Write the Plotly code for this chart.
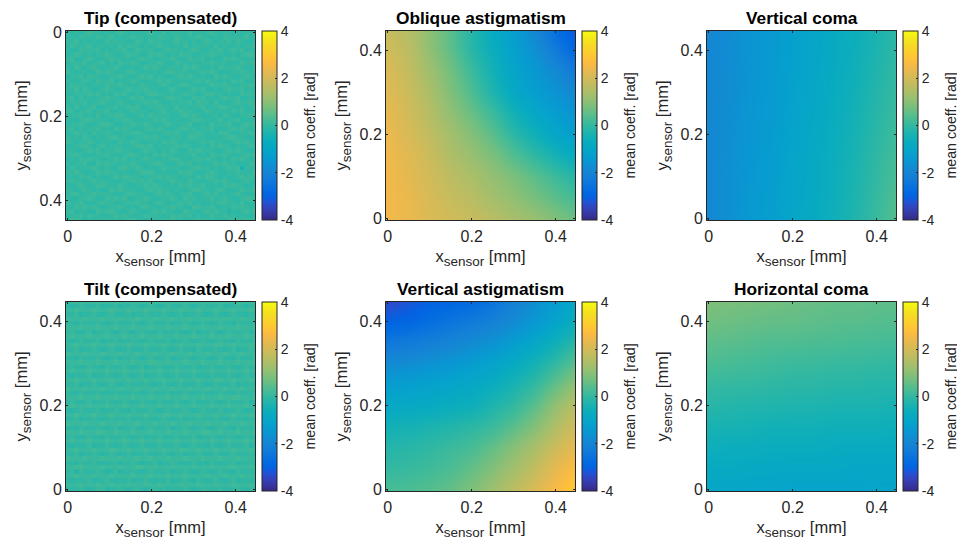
import plotly.graph_objects as go

W, H = 957, 542
FONT = "Liberation Sans"
INK = "#262626"

PARULA = [
 (.2081,.1663,.5292),(.2116,.1898,.5777),(.2123,.2138,.6270),(.2081,.2386,.6771),(.1959,.2645,.7279),(.1707,.2919,.7792),
 (.1253,.3242,.8303),(.0591,.3598,.8683),(.0117,.3875,.8820),(.0060,.4086,.8828),(.0165,.4266,.8786),(.0329,.4430,.8720),
 (.0498,.4586,.8641),(.0629,.4737,.8554),(.0723,.4887,.8467),(.0779,.5040,.8384),(.0793,.5200,.8312),(.0749,.5375,.8263),
 (.0641,.5570,.8240),(.0488,.5772,.8228),(.0343,.5966,.8199),(.0265,.6137,.8135),(.0239,.6287,.8038),(.0231,.6418,.7913),
 (.0228,.6535,.7768),(.0267,.6642,.7607),(.0384,.6743,.7436),(.0590,.6838,.7254),(.0843,.6928,.7062),(.1133,.7015,.6859),
 (.1453,.7098,.6646),(.1801,.7177,.6424),(.2178,.7250,.6193),(.2586,.7317,.5954),(.3022,.7376,.5712),(.3482,.7424,.5473),
 (.3953,.7459,.5244),(.4420,.7481,.5033),(.4871,.7491,.4840),(.5300,.7491,.4661),(.5709,.7485,.4494),(.6099,.7473,.4337),
 (.6473,.7456,.4188),(.6834,.7435,.4044),(.7184,.7411,.3905),(.7525,.7384,.3768),(.7858,.7356,.3633),(.8185,.7327,.3498),
 (.8507,.7299,.3360),(.8824,.7274,.3217),(.9139,.7258,.3063),(.9450,.7261,.2886),(.9739,.7314,.2666),(.9938,.7455,.2403),
 (.9990,.7653,.2164),(.9955,.7861,.1967),(.9880,.8066,.1794),(.9789,.8271,.1633),(.9697,.8481,.1475),(.9626,.8705,.1309),
 (.9589,.8949,.1132),(.9598,.9218,.0948),(.9661,.9514,.0755),(.9763,.9831,.0538)]
colorscale = [[i / 63, f"rgb({r*255:.0f},{g*255:.0f},{b*255:.0f})"] for i, (r, g, b) in enumerate(PARULA)]

grid_x = [0.0, 0.05, 0.10, 0.15, 0.20, 0.25, 0.30, 0.35, 0.40, 0.445]
grid_y = [0.0, 0.05, 0.10, 0.15, 0.20, 0.25, 0.30, 0.35, 0.40, 0.445]

oblique_astig = [
 [2.50,2.35,2.10,1.95,1.80,1.60,1.35,1.15,0.85,0.60],
 [2.50,2.35,2.05,1.80,1.60,1.30,1.05,0.75,0.45,0.20],
 [2.50,2.25,1.95,1.65,1.40,1.10,0.80,0.45,0.10,-0.20],
 [2.45,2.20,1.85,1.45,1.15,0.80,0.35,-0.05,-0.45,-0.80],
 [2.40,2.05,1.70,1.30,0.90,0.45,-0.10,-0.55,-1.00,-1.25],
 [2.30,1.95,1.55,1.05,0.60,0.10,-0.50,-0.95,-1.30,-1.55],
 [2.20,1.85,1.40,0.85,0.30,-0.30,-0.90,-1.25,-1.60,-1.90],
 [2.10,1.75,1.25,0.70,0.10,-0.50,-1.05,-1.45,-1.85,-2.30],
 [1.95,1.65,1.05,0.50,-0.15,-0.65,-1.20,-1.65,-2.30,-2.85],
 [1.80,1.55,1.00,0.40,-0.20,-0.80,-1.30,-1.90,-2.70,-3.20]]
vertical_astig = [
 [0.25,0.30,0.40,0.55,0.85,1.25,1.65,2.10,2.60,3.00],
 [0.00,0.05,0.15,0.30,0.55,0.90,1.30,1.75,2.30,2.70],
 [-0.20,-0.15,-0.05,0.10,0.25,0.55,0.95,1.40,1.90,2.30],
 [-0.50,-0.45,-0.35,-0.25,-0.10,0.10,0.45,0.90,1.50,1.95],
 [-0.90,-0.85,-0.80,-0.70,-0.60,-0.30,0.00,0.45,1.10,1.60],
 [-1.30,-1.25,-1.15,-1.05,-0.90,-0.70,-0.40,0.00,0.55,1.05],
 [-1.80,-1.75,-1.60,-1.50,-1.30,-1.10,-0.80,-0.45,0.00,0.45],
 [-2.40,-2.30,-2.15,-2.00,-1.80,-1.60,-1.30,-0.95,-0.55,-0.15],
 [-3.00,-2.90,-2.70,-2.50,-2.30,-2.10,-1.80,-1.45,-1.10,-0.65],
 [-3.40,-3.20,-3.00,-2.90,-2.80,-2.50,-2.05,-1.70,-1.30,-0.90]]
vertical_coma = [
 [-1.85,-1.65,-1.40,-1.25,-1.00,-0.80,-0.55,-0.25,0.10,0.40],
 [-1.85,-1.66,-1.42,-1.26,-1.02,-0.82,-0.58,-0.30,0.05,0.35],
 [-1.86,-1.67,-1.44,-1.28,-1.04,-0.84,-0.60,-0.33,0.00,0.28],
 [-1.87,-1.68,-1.46,-1.30,-1.06,-0.86,-0.63,-0.37,-0.04,0.22],
 [-1.88,-1.70,-1.48,-1.32,-1.09,-0.89,-0.66,-0.41,-0.10,0.15],
 [-1.88,-1.71,-1.50,-1.34,-1.12,-0.92,-0.70,-0.45,-0.15,0.10],
 [-1.89,-1.72,-1.52,-1.36,-1.15,-0.95,-0.73,-0.50,-0.20,0.05],
 [-1.90,-1.73,-1.53,-1.38,-1.17,-0.97,-0.76,-0.54,-0.26,0.00],
 [-1.90,-1.74,-1.54,-1.39,-1.19,-0.99,-0.78,-0.57,-0.31,-0.05],
 [-1.90,-1.75,-1.55,-1.40,-1.20,-1.00,-0.80,-0.60,-0.35,-0.10]]
horizontal_coma = [
 [-1.00,-1.00,-1.05,-1.05,-1.10,-1.10,-1.10,-1.10,-1.05,-1.05],
 [-0.80,-0.80,-0.85,-0.85,-0.90,-0.90,-0.90,-0.95,-0.95,-0.95],
 [-0.60,-0.65,-0.65,-0.70,-0.70,-0.70,-0.75,-0.75,-0.75,-0.75],
 [-0.40,-0.40,-0.45,-0.50,-0.50,-0.50,-0.55,-0.55,-0.55,-0.60],
 [-0.15,-0.20,-0.25,-0.25,-0.30,-0.30,-0.35,-0.35,-0.35,-0.40],
 [0.05,0.00,0.00,-0.05,-0.10,-0.10,-0.15,-0.15,-0.20,-0.20],
 [0.30,0.25,0.20,0.15,0.10,0.10,0.05,0.05,0.00,0.00],
 [0.50,0.45,0.40,0.35,0.35,0.30,0.30,0.25,0.25,0.20],
 [0.70,0.65,0.60,0.55,0.55,0.50,0.45,0.45,0.40,0.40],
 [0.85,0.80,0.75,0.70,0.65,0.60,0.55,0.55,0.50,0.50]]

# Per-pixel residuals, one digit per cell; the panels' offsets are applied below
tip_rows = [
 "54545655454565454456546455546454565455454554",
 "45465546556454565545465546545565445465554645",
 "55645454465555446546554456554545654556465445",
 "46555645545465655454565545464555546454554556",
 "54465556454556446555445655545654455645656454",
 "45654545565445655446565454655445565544545665",
 "56445654456554545655445565446556454465655454",
 "45556455645465565445565446554545565554446556",
 "54654565455654454565654555465654454655565445",
 "65455446565445665454545664554456565444556545",
 "45564655445565445656455445656545446565445654",
 "54456546556454565445565654454565655454656445",
 "46555455465565454654456545665444565565445565",
 "55646544565445655565544565445656445456556454",
 "44555656454656445456655454565545665545446565",
 "56464545565544565645445665544656454565564454",
 "45556455654565445565654454556465546444565565",
 "54645564455645656445565546454556455665545446",
 "66455645564454565554456455655445654554656454",
 "45564546455665445646555544565654455465445565",
 "54456655544556654454656545445665545645564454",
 "45565445665445565565445654556445465556445656",
 "56454556454656544456565445665545564445656545",
 "45655464565445566544545656445565454665445564",
 "54546545456655445565654455546655445456655445",
 "65455654554465565445546565454456565544565654",
 "44566545645554456656454556565445465655454565",
 "55445656455665544565545465446565554456565444",
 "56654445565445665454656554455645465565445656",
 "45465655445656454565445566544565654454656545",
 "54556446565545565445665445656454456565544465",
 "46545565454466556545456555445665545456561545",
 "55654456565545445666545445656544565445565456",
 "45465645445656655445565654455465665454456565",
 "56554565554445565656445565546544556565445654",
 "44565456655465445565654454656556445465655445",
 "55456545446565554456565545445665545654456556",
 "46645565555445665544565654556445656454565445",
 "54455654465656445565445565465545564565445665",
 "65564445655445656554565445656454455665546454",
 "44656565445565454665445565544665564454656545",
 "56455446566544565445656554465545656553445656",
 "45564655445656544565554465656454465565545445",
 "56654544565545665445456565544565554446565655"]
tilt_rows = [
 "44454345534454345434545344454345444534454354",
 "55565556556555655565565555655565556555655565",
 "43444534454344534454344534454354345434534444",
 "55655565556555565556555655565555655565556555",
 "45354445434534454345444534454345434544354445",
 "55665555655565556655655565555655565556655565",
 "44354454344534454344534454344534354444534454",
 "65556555655565556556555655565556555655565555",
 "44534454345434534454345434534454345434544454",
 "55655565556655655565556555665565556555655565",
 "43444534454345434544354445434544354345444534",
 "56555655565556555655565556555655565556555655",
 "45434544354445434534454345444534454345434544",
 "55565556655655565556555655565556655655565556",
 "44354445434534454345444534454345434544354445",
 "65556555655565556555655565556555655565556555",
 "44534454345444534454345434534454445434544354",
 "55655565556555655565556655655565556555655565",
 "43454445344544354445434544454345444534454345",
 "56555655565556555655565556555655565556555655",
 "45434534454345434544354445434534454345444534",
 "55565556555655565556555655565556555655665556",
 "44354445434534454345444534454345434544354445",
 "65556555655565556555655565556555655565556555",
 "44534454345434544454345434534454345444534454",
 "55655565556555655565556555655565556655655565",
 "43444534454345434534454345444534354445434544",
 "56555655565556555655565556555655565556555655",
 "45434544354445434534454345444534454345434544",
 "55565556555655565556655655565556555655565556",
 "44354445434534454345444534454345434544354445",
 "65556555655565556555655565556555655565556555",
 "44534454345434534454445434544354445434534454",
 "55655565556555655565556555655565556655655565",
 "43454445344534454345444534454345434544354445",
 "56555655565556555655565556555655565556555655",
 "45434534454345434544354445434534454345444534",
 "55565556555655565556555655565556555655565556",
 "44354445434534454345444534454345434544354445",
 "65556555655565556555655565556555655565556555",
 "44534454345434534454445434534454345434544354",
 "55655565556555655565556555655565556555655565",
 "43454445344534454345434544454345444534454345",
 "55565556555655565556555655565556555655565556"]
tip_values = [[(int(c) - 4.8) * 0.1 for c in row] for row in tip_rows]
tilt_values = [[(int(c) - 4.4) * 0.1 for c in row] for row in tilt_rows]

titles = ["Tip (compensated)", "Oblique astigmatism", "Vertical coma",
          "Tilt (compensated)", "Vertical astigmatism", "Horizontal coma"]
panels = [tip_values, oblique_astig, vertical_coma, tilt_values, vertical_astig, horizontal_coma]
ticks = [0, 0.2, 0.4]
cbar_ticks = [-4, -2, 0, 2, 4]

lefts = [66, 386, 707]
tops = [31, 302]
pw, ph = 189, 189
cb_gap = 7
SUB = "<sub><span style='font-size:13.5px'>sensor</span></sub>"

fig = go.Figure()
layout = dict(width=W, height=H, margin=dict(l=0, r=0, t=0, b=0, autoexpand=False), paper_bgcolor="white",
              plot_bgcolor="white", showlegend=False, annotations=[])
for i, (z, title) in enumerate(zip(panels, titles)):
    col, row = i % 3, i // 3
    l, t = lefts[col], tops[row]
    n = "" if i == 0 else str(i + 1)
    cb = dict(thickness=15, thicknessmode="pixels", len=ph / H, lenmode="fraction",
              x=(l + pw + cb_gap) / W, xanchor="left", xpad=0, ypad=0,
              y=1 - (t + ph / 2) / H, yanchor="middle",
              tickmode="array", tickvals=cbar_ticks, ticktext=[str(v) for v in cbar_ticks],
              ticks="inside", ticklen=2, tickwidth=1, tickcolor=INK,
              outlinecolor=INK, outlinewidth=1,
              tickfont=dict(family=FONT, size=14, color=INK))
    common = dict(z=z, zmin=-4, zmax=4, colorscale=colorscale, colorbar=cb,
                  xaxis="x" + n, yaxis="y" + n, hoverinfo="skip")
    if i in (0, 3):
        fig.add_trace(go.Heatmap(x0=0.0, dx=0.0104, y0=0.0, dy=0.0104, zsmooth=False, **common))
    else:
        fig.add_trace(go.Heatmap(x=grid_x, y=grid_y, zsmooth="best", **common))
    ax = dict(tickmode="array", tickvals=ticks, ticktext=["0", "0.2", "0.4"], ticks="inside", ticklen=2,
              tickwidth=1, tickcolor=INK, showline=True, linecolor=INK, linewidth=1, mirror="ticks",
              showgrid=False, zeroline=False, tickfont=dict(family=FONT, size=16, color=INK))
    yrange = [0.446, -0.004] if i == 0 else [-0.004, 0.446]
    layout["xaxis" + n] = dict(ax, domain=[l / W, (l + pw) / W], range=[-0.004, 0.446], ticklabelstandoff=2,
                               anchor="y" + n, title=dict(text=f"x{SUB} [mm]", standoff=6,
                               font=dict(family=FONT, size=16.5, color=INK)))
    layout["yaxis" + n] = dict(ax, domain=[1 - (t + ph) / H, 1 - t / H], range=yrange,
                               anchor="x" + n, title=dict(text=f"y{SUB} [mm]", standoff=7,
                               font=dict(family=FONT, size=16.5, color=INK)))
    layout["annotations"].append(dict(text=f"<b>{title}</b>", xref="paper", yref="paper",
                                      x=(l + pw / 2) / W, y=1 - (t - 13) / H, showarrow=False,
                                      xanchor="center", yanchor="middle",
                                      font=dict(family=FONT, size=17.3, color="black")))
    layout["annotations"].append(dict(text="mean coeff. [rad]", xref="paper", yref="paper", textangle=-90,
                                      x=(l + pw + cb_gap + 15 + 32) / W, y=1 - (t + ph / 2) / H, showarrow=False,
                                      xanchor="center", yanchor="middle",
                                      font=dict(family=FONT, size=14.2, color=INK)))
fig.update_layout(**layout)
fig.write_html("out.html", config={"displayModeBar": False},
               post_script="document.body.style.margin='0';document.body.style.overflow='hidden';")
